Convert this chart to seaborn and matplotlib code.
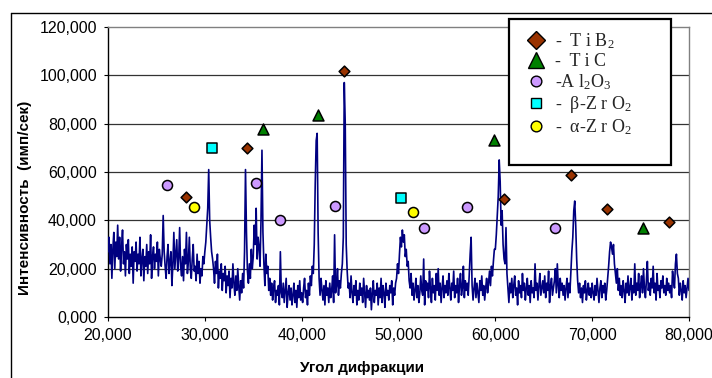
import numpy as np
import pandas as pd
import matplotlib
matplotlib.use("Agg")
import matplotlib.pyplot as plt
from matplotlib.lines import Line2D
from matplotlib.patches import Rectangle
from matplotlib.ticker import FuncFormatter
import seaborn as sns

# ---------------- data ----------------
angle_start = 20.0
angle_step = 0.1
intensity = [
    27, 33, 22, 30, 16, 28, 35, 20, 31, 25,
    38, 24, 33, 19, 29, 36, 22, 27, 17, 30,
    24, 32, 18, 26, 21, 29, 14, 27, 23, 31,
    19, 26, 22, 33, 17, 24, 28, 15, 25, 21,
    30, 18, 27, 22, 34, 16, 25, 29, 20, 26,
    23, 31, 17, 28, 24, 21, 26, 42, 27, 21,
    16, 25, 30, 18, 23, 27, 13, 22, 35, 20,
    26, 32, 19, 24, 37, 21, 17, 25, 15, 28,
    22, 35, 18, 23, 33, 20, 16, 24, 30, 19,
    21, 15, 26, 18, 23, 14, 20, 17, 25, 22,
    27, 31, 38, 45, 61, 40, 33, 27, 24, 20,
    14, 23, 18, 26, 12, 19, 16, 22, 11, 18,
    15, 21, 10, 17, 13, 19, 8, 16, 12, 22,
    14, 9, 17, 11, 20, 13, 7, 15, 10, 18,
    12, 27, 61, 35, 19, 14, 22, 16, 28, 20,
    25, 38, 30, 45, 24, 33, 29, 21, 40, 69,
    35, 22, 13, 26, 18, 21, 11, 16, 9, 14,
    7, 12, 15, 6, 11, 9, 13, 5, 27, 10,
    8, 14, 6, 11, 16, 4, 10, 13, 7, 12,
    5, 9, 14, 6, 11, 4, 13, 8, 15, 7,
    10, 6, 12, 16, 8, 11, 5, 14, 9, 17,
    13, 21, 18, 30, 55, 73, 76, 35, 16, 9,
    16, 11, 7, 13, 5, 15, 9, 12, 6, 14,
    8, 11, 17, 6, 34, 10, 13, 20, 9, 15,
    12, 18, 22, 33, 97, 80, 30, 19, 12, 14,
    8, 17, 10, 6, 13, 9, 15, 5, 11, 7,
    14, 9, 12, 6, 16, 10, 4, 13, 8, 11,
    7, 12, 3, 10, 15, 6, 11, 9, 14, 5,
    12, 8, 16, 6, 13, 10, 4, 14, 9, 11,
    7, 13, 10, 15, 5, 12, 9, 14, 16, 22,
    18, 26, 33, 29, 36, 31, 34, 25, 28, 21,
    23, 15, 12, 18, 9, 14, 7, 11, 16, 8,
    13, 6, 10, 17, 11, 9, 24, 5, 15, 11,
    14, 8, 19, 12, 6, 16, 10, 13, 7, 18,
    11, 20, 9, 14, 6, 12, 17, 8, 13, 10,
    15, 9, 18, 12, 7, 14, 11, 19, 8, 13,
    10, 16, 6, 13, 18, 9, 12, 21, 8, 15,
    11, 14, 9, 17, 26, 33, 13, 7, 12, 16,
    8, 14, 10, 6, 15, 11, 17, 9, 13, 7,
    12, 16, 10, 14, 19, 13, 21, 17, 23, 28,
    28, 34, 42, 50, 65, 56, 38, 44, 30, 24,
    22, 37, 18, 12, 6, 14, 10, 16, 8, 13,
    17, 9, 12, 5, 15, 10, 13, 8, 18, 11,
    14, 7, 12, 16, 9, 13, 6, 15, 10, 12,
    8, 22, 11, 14, 7, 13, 18, 9, 12, 15,
    10, 17, 8, 14, 11, 19, 6, 13, 16, 9,
    12, 15, 20, 10, 22, 13, 8, 16, 11, 14,
    9, 13, 7, 12, 16, 8, 14, 10, 19, 27,
    33, 44, 48, 38, 24, 15, 10, 14, 8, 12,
    6, 13, 10, 15, 7, 11, 14, 9, 12, 8,
    14, 10, 7, 13, 9, 16, 11, 6, 12, 15,
    8, 13, 10, 14, 7, 11, 16, 21, 27, 31,
    29, 26, 30, 22, 18, 14, 20, 11, 16, 9,
    13, 8, 15, 11, 6, 14, 10, 17, 9, 12,
    16, 7, 13, 10, 22, 9, 14, 11, 18, 8,
    13, 17, 10, 20, 12, 8, 15, 23, 11, 14,
    9, 16, 12, 21, 10, 14, 7, 18, 11, 13,
    8, 15, 12, 17, 10, 13, 9, 16, 11, 14,
    10, 13, 8, 19, 15, 12, 22, 26, 18, 16,
    9, 14, 11, 7, 15, 10, 13, 8, 12, 16,
    11,
]

# phase markers (angle, intensity)
tib2_x = [28.1, 34.4, 44.4, 60.9, 67.8, 71.5, 77.9]
tib2_y = [49.5, 70.0, 102.0, 48.8, 58.8, 44.6, 39.3]
tic_x = [36.0, 41.7, 59.9, 75.2]
tic_y = [78.0, 83.6, 73.2, 36.7]
al2o3_x = [26.1, 35.3, 37.8, 43.4, 52.6, 57.1, 66.2]
al2o3_y = [54.5, 55.6, 40.1, 45.9, 36.7, 45.4, 37.0]
bzro2_x = [30.7, 50.3]
bzro2_y = [70.0, 49.1]
azro2_x = [28.9, 51.5]
azro2_y = [45.6, 43.3]

legend_labels = [
    "-  T i B$_2$",
    "-  T i C",
    "-A l$_2$O$_3$",
    "-  β-Z r O$_2$",
    "-  α-Z r O$_2$",
]

x_ticks = [20, 30, 40, 50, 60, 70, 80]
y_ticks = [0, 20, 40, 60, 80, 100, 120]

# ---------------- styling ----------------
sns.set_theme(style="white")
plt.rcParams["font.family"] = ["Liberation Sans", "DejaVu Sans"]
plt.rcParams["mathtext.fontset"] = "custom"
plt.rcParams["mathtext.rm"] = "Liberation Serif"
plt.rcParams["mathtext.it"] = "Liberation Serif:italic"
plt.rcParams["mathtext.bf"] = "Liberation Serif:bold"

W, H, DPI = 712, 378, 100
fig = plt.figure(figsize=(W / DPI, H / DPI), dpi=DPI)
fig.patch.set_facecolor("white")

L, R, T, B = 108, 689, 27, 317
ax = fig.add_axes([L / W, 1 - B / H, (R - L) / W, (B - T) / H])
ax.set_facecolor("white")

assert len(intensity) == 601
angles = np.round(angle_start + angle_step * np.arange(len(intensity)), 2)
df = pd.DataFrame({"angle": angles, "intensity": intensity})

sns.lineplot(data=df, x="angle", y="intensity", ax=ax, color="#000080",
             linewidth=1.2, zorder=3, estimator=None, sort=False)

phases = [
    (tib2_x, tib2_y, "D", "#993300", 30),
    (tic_x, tic_y, "^", "#008000", 62),
    (al2o3_x, al2o3_y, "o", "#CC99FF", 52),
    (bzro2_x, bzro2_y, "s", "#00FFFF", 52),
    (azro2_x, azro2_y, "o", "#FFFF00", 52),
]
for xs, ys, m, c, s in phases:
    sns.scatterplot(x=xs, y=ys, ax=ax, marker=m, color=c, s=s,
                    edgecolor="black", linewidth=1.1, zorder=4, legend=False)

ax.set_xlim(20, 80)
ax.set_ylim(0, 120)
ax.set_xticks(x_ticks)
ax.set_yticks(y_ticks)
fmt = FuncFormatter(lambda v, p: f"{v:.3f}".replace(".", ","))
ax.xaxis.set_major_formatter(fmt)
ax.yaxis.set_major_formatter(fmt)
ax.tick_params(axis="both", which="major", direction="out", length=3,
               width=0.8, color="black", labelsize=11.5, labelcolor="black")
ax.tick_params(axis="y", pad=5)
ax.tick_params(axis="x", pad=5)
ax.tick_params(left=True, bottom=True)

ax.grid(False)
for yv in y_ticks[1:-1]:
    ax.axhline(yv, color="#333333", linewidth=0.9, zorder=1)

for side in ["top", "right"]:
    ax.spines[side].set_color("#808080")
    ax.spines[side].set_linewidth(1.0)
for side in ["left", "bottom"]:
    ax.spines[side].set_color("black")
    ax.spines[side].set_linewidth(1.0)

ax.set_xlabel("")
ax.set_ylabel("")
fig.text(361.7 / W, 1 - 368 / H, "Угол дифракции", ha="center", va="center",
         fontsize=11, fontweight="bold", color="black")
fig.text(25.5 / W, 1 - 198 / H, "Интенсивность  (имп/сек)", ha="center",
         va="center", rotation=90, fontsize=11, fontweight="bold", color="black")

# outer chart frame
fig.add_artist(Line2D([10.5 / W, 1.0], [1 - 12.5 / H] * 2, transform=fig.transFigure,
                      color="black", linewidth=1.0))
fig.add_artist(Line2D([10.5 / W] * 2, [0.0, 1 - 12.5 / H], transform=fig.transFigure,
                      color="black", linewidth=1.0))

# legend box
lx0, ly0, lx1, ly1 = 509, 19, 671, 165
fig.add_artist(Rectangle((lx0 / W, 1 - ly1 / H), (lx1 - lx0) / W, (ly1 - ly0) / H,
                         transform=fig.transFigure, facecolor="white",
                         edgecolor="black", linewidth=1.6, zorder=4))
handles = [
    Line2D([], [], linestyle="none", marker="D", markersize=9.0,
           markerfacecolor="#993300", markeredgecolor="black", markeredgewidth=1.0),
    Line2D([], [], linestyle="none", marker="^", markersize=12,
           markerfacecolor="#008000", markeredgecolor="black", markeredgewidth=1.0),
    Line2D([], [], linestyle="none", marker="o", markersize=7.7,
           markerfacecolor="#CC99FF", markeredgecolor="black", markeredgewidth=1.0),
    Line2D([], [], linestyle="none", marker="s", markersize=7.7,
           markerfacecolor="#00FFFF", markeredgecolor="black", markeredgewidth=1.0),
    Line2D([], [], linestyle="none", marker="o", markersize=7.7,
           markerfacecolor="#FFFF00", markeredgecolor="black", markeredgewidth=1.0),
]
leg = fig.legend(handles, legend_labels, loc="upper left",
                 bbox_to_anchor=(527 / W, 1 - 31 / H), bbox_transform=fig.transFigure,
                 frameon=False, handlelength=1.0, handletextpad=0.55,
                 labelspacing=0.12, borderpad=0.0, borderaxespad=0.0,
                 prop={"family": "Liberation Serif", "size": 13})
leg.set_zorder(5)

fig.savefig("out.png", dpi=DPI, facecolor="white")
